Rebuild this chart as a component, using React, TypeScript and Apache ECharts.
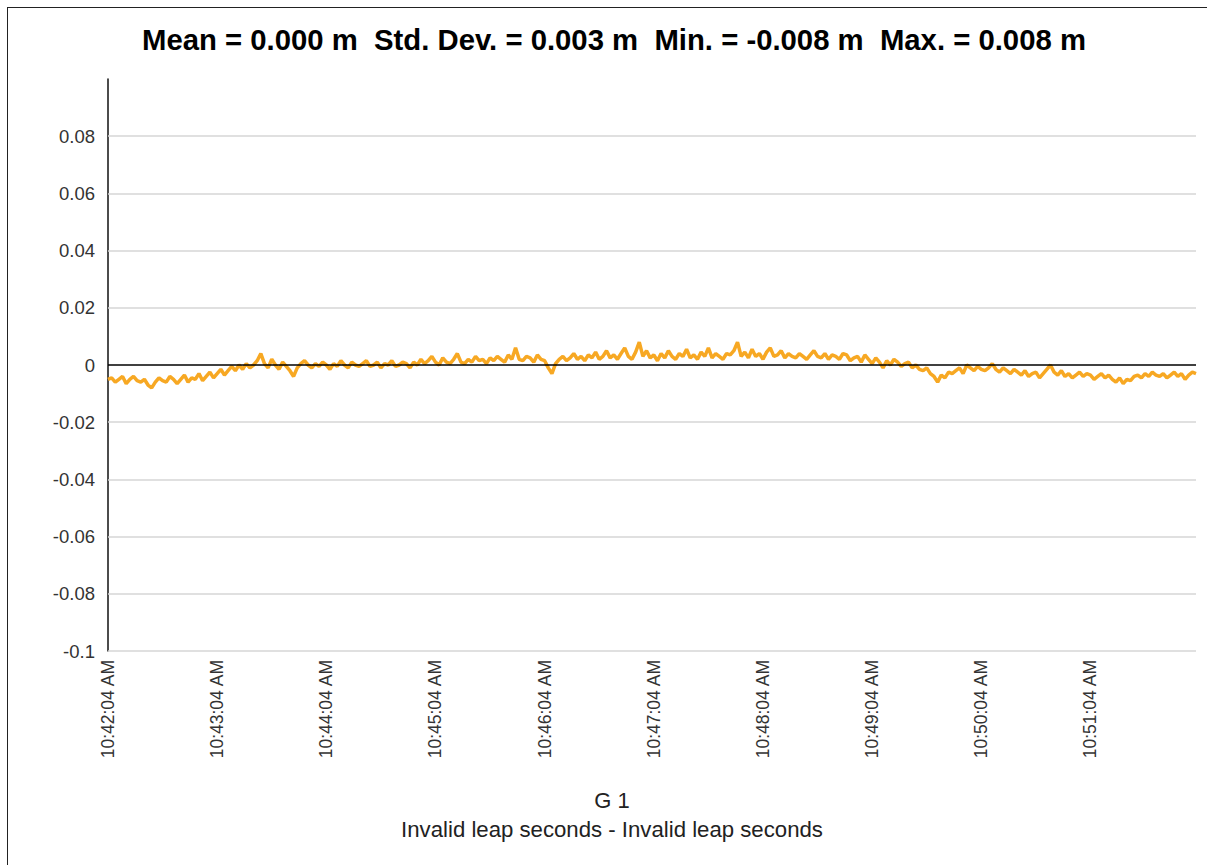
import React, { useEffect, useRef } from "react";
import * as echarts from "echarts";

// Residuals in millimetres, one sample every 2 s starting at 10:42:04 AM
const START_LABEL_TIMES = [
  "10:42:04 AM", "10:43:04 AM", "10:44:04 AM", "10:45:04 AM", "10:46:04 AM",
  "10:47:04 AM", "10:48:04 AM", "10:49:04 AM", "10:50:04 AM", "10:51:04 AM",
];
const SAMPLE_STEP_S = 2;
const SPAN_S = 598;

const residualsMm = [
  -5, -4.5, -6, -5, -4, -6.5, -5, -4, -5.5, -6,
  -5, -7, -8, -6, -4.5, -5.5, -6, -4, -5, -6.5,
  -5, -3.5, -6, -4.5, -5, -3, -5.5, -4, -2.5, -4.5,
  -3, -1.5, -3.5, -2, -0.5, -2, 0, -1.5, 0.5, -1,
  0, 1.5, 4, 0.5, -1, 2, 0, -1.5, 1, -0.5,
  -2, -4, -1, 0.5, 1.5, 0, -1, 0.5, -0.5, 1,
  0, -1.5, 0.5, -0.5, 1.5, 0, -1, 1, 0, -0.5,
  0.5, 1.5, -0.5, 0, 1, -1, 0.5, 0, 1.5, -0.5,
  0, 1, 0.5, -1, 1, 0, 2, 0.5, 1.5, 3,
  1, 0, 2.5, 1, 0.5, 2, 4, 1, 0.5, 2,
  1, 3, 1.5, 2, 0.5, 2.5, 1.5, 3, 2, 1,
  3.5, 2, 6, 2, 1.5, 3, 2.5, 1, 3.5, 2,
  1.5, -1, -3, 0.5, 2, 3, 1.5, 2.5, 4, 2,
  3, 1.5, 3.5, 2.5, 4.5, 2, 3, 5, 2.5, 3.5,
  2, 4, 6, 3, 2, 4.5, 8, 3, 5, 2.5,
  3.5, 1.5, 4, 2.5, 5, 3, 2, 4, 3, 5.5,
  2.5, 3.5, 2, 4.5, 3, 6, 2.5, 4, 3, 2,
  4, 3.5, 5, 8, 3, 4.5, 2.5, 5.5, 3, 4,
  2, 4.5, 6, 3, 3.5, 5, 2.5, 4, 3, 2.5,
  4, 3, 2, 3.5, 5, 3, 2.5, 4, 2, 3.5,
  3, 2, 4, 3.5, 1.5, 2.5, 3, 1, 3.5, 2,
  0.5, 2.5, 1, -1, 1.5, 0, 2, 1, -0.5, 0.5,
  1, -1, 0, -1.5, -2, -1, -3, -4, -6, -3.5,
  -4.5, -2.5, -3, -2, -1, -3, 0, -1, -2, -0.5,
  -1.5, -2, -1, 0.5, -1.5, -2.5, -1, -2, -3, -1.5,
  -2.5, -3.5, -2, -4, -3, -2.5, -4.5, -3, -1.5, 0,
  -2.5, -3.5, -2, -4, -3, -4.5, -3.5, -2.5, -4, -3,
  -3.5, -5, -4, -3, -4.5, -3.5, -5, -6, -4.5, -6.5,
  -5, -5.5, -4, -3.5, -4.5, -3, -4, -2.5, -3.5, -4,
  -3, -4.5, -3.5, -2.5, -4, -3, -5, -3.5, -2.5, -3,
];

const gridValues = [-0.1, -0.08, -0.06, -0.04, -0.02, 0.02, 0.04, 0.06, 0.08];

const TITLE = "Mean = 0.000 m  Std. Dev. = 0.003 m  Min. = -0.008 m  Max. = 0.008 m";
const SAT_NAME = "G 1";
const SUBTITLE = "Invalid leap seconds - Invalid leap seconds";

const FONT = "Arial, 'Liberation Sans', sans-serif";

export default function App() {
  const ref = useRef<HTMLDivElement>(null);

  useEffect(() => {
    if (!ref.current) return;
    const chart = echarts.init(ref.current, null, { renderer: "svg" });
    const seriesData = residualsMm.map((mm, i) => [i * SAMPLE_STEP_S, mm / 1000]);

    chart.setOption({
      animation: false,
      backgroundColor: "#ffffff",
      title: {
        text: TITLE,
        left: 137,
        top: 20,
        textStyle: { fontFamily: FONT, fontSize: 29.3, fontWeight: "bold", color: "#000" },
      },
      grid: { left: 108, right: 11, top: 79, bottom: 214 },
      xAxis: {
        type: "value",
        min: 0,
        max: SPAN_S,
        interval: 60,
        axisLine: { show: false },
        axisTick: { show: false },
        splitLine: { show: false },
        axisLabel: {
          rotate: 90,
          margin: 9,
          showMaxLabel: false,
          fontFamily: FONT,
          fontSize: 17.5,
          color: "#333",
          formatter: (v: number) => {
            const idx = Math.round(v / 60);
            return v % 60 === 0 && idx < START_LABEL_TIMES.length ? START_LABEL_TIMES[idx] : "";
          },
        },
      },
      yAxis: {
        type: "value",
        min: -0.1,
        max: 0.1,
        interval: 0.02,
        axisLine: { show: true, lineStyle: { color: "#111", width: 1.5 } },
        axisTick: { show: false },
        splitLine: { show: false },
        axisLabel: {
          showMaxLabel: false,
          margin: 13,
          fontFamily: FONT,
          fontSize: 18.5,
          color: "#333",
          formatter: (v: number) => String(parseFloat(v.toFixed(2))),
        },
      },
      series: [
        {
          type: "line",
          data: [],
          z: 1,
          silent: true,
          markLine: {
            silent: true,
            symbol: ["none", "none"],
            label: { show: false },
            data: [
              ...gridValues.map((g) => ({
                yAxis: g,
                lineStyle: { color: "#d6d6d6", width: 1.5, type: "solid" },
              })),
              { yAxis: 0, lineStyle: { color: "#000", width: 1.5, type: "solid" } },
            ],
          },
        },
        {
          type: "line",
          data: seriesData,
          z: 3,
          showSymbol: false,
          lineStyle: { color: "#F7A823", width: 3.5 },
          itemStyle: { color: "#F7A823" },
        },
      ],
      graphic: [
        {
          type: "text",
          x: 612,
          y: 789,
          style: { text: SAT_NAME, fontFamily: FONT, fontSize: 22, fill: "#222", align: "center" },
        },
        {
          type: "text",
          x: 612,
          y: 818,
          style: { text: SUBTITLE, fontFamily: FONT, fontSize: 22.2, fill: "#222", align: "center" },
        },
      ],
    });

    return () => chart.dispose();
  }, []);

  return (
    <div
      style={{
        position: "fixed",
        left: 0,
        top: 0,
        width: 1207,
        height: 865,
        background: "#fff",
      }}
    >
      <div ref={ref} style={{ position: "absolute", left: 0, top: 0, width: 1207, height: 865 }} />
      <div
        style={{
          position: "absolute",
          left: 7,
          top: 7,
          width: 1200,
          height: 858,
          borderTop: "1.5px solid #222",
          borderLeft: "1.5px solid #222",
          pointerEvents: "none",
        }}
      />
    </div>
  );
}
